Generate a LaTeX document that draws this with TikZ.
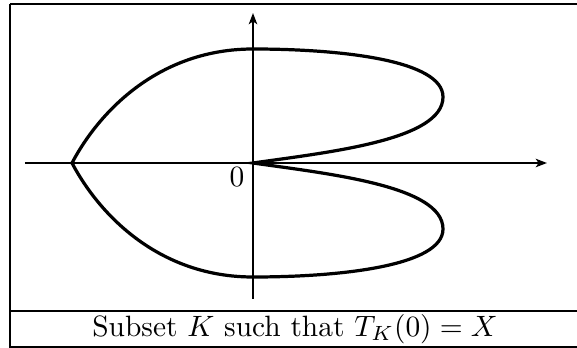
\documentclass[tikz,border=0pt]{standalone}
\usetikzlibrary{arrows.meta}
\begin{document}
\begin{tikzpicture}[x=0.357pt,y=-0.357pt,
  framestyle/.style={line width=0.75pt},
  axisstyle/.style={line width=0.7pt,-{Stealth[length=4pt,width=3pt,inset=1pt]}},
  curvestyle/.style={line width=1.15pt,line join=miter},
  textstyle/.style={inner sep=0pt,scale=1.05}]
\useasboundingbox (0,0) rectangle (577,348);
% frame
\draw[framestyle] (10,4) -- (579,4);
\draw[framestyle] (10,4) -- (10,347) -- (579,347);
\draw[framestyle] (10,311) -- (579,311);
% axes
\coordinate (xl) at (25,163);
\coordinate (xr) at (547,163);
\coordinate (yb) at (253,299);
\coordinate (yt) at (253,13);
\coordinate (O) at (253,163);
\draw[axisstyle] (xl) -- (xr);
\draw[axisstyle] (yb) -- (yt);
\node[textstyle] (zero) at (237,177) {$0$};
% curve
\coordinate (C) at (72,163);
\draw[curvestyle] (C) .. controls (100,110) and (160,49) .. (253,49)
  .. controls (340,49) and (443,60) .. (443,97)
  .. controls (443,140) and (330,152) .. (O)
  .. controls (330,174) and (443,186) .. (443,229)
  .. controls (443,266) and (340,277) .. (253,277)
  .. controls (160,277) and (100,216) .. (C);
% caption
\node[textstyle] (cap) at (295,329) {Subset $K$ such that $T_K(0)=X$};
\end{tikzpicture}
\end{document}
